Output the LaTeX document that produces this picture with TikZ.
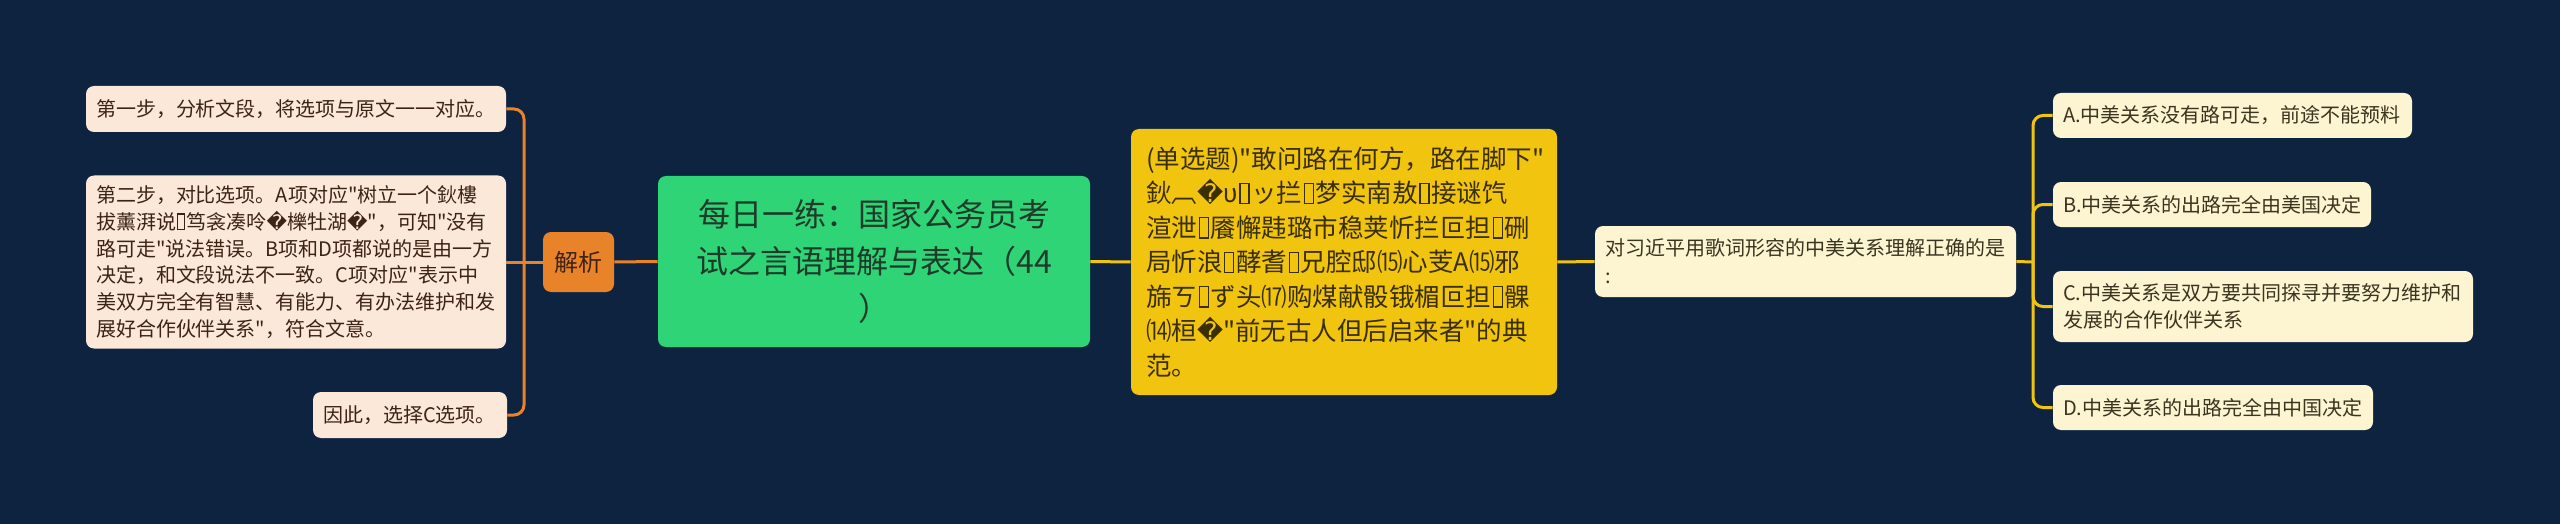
\documentclass[tikz,border=0pt]{standalone}
\usepackage{fontspec}
\newfontfamily\cjk{Noto Sans CJK SC}
\newfontfamily\dejavu{DejaVu Sans}
\newcommand\qm{{\dejavu\char"FFFD}}
\newcommand\tofu{\kern0.06em{\setlength\fboxsep{0pt}\setlength\fboxrule{0.055em}\fbox{\rule{0pt}{0.74em}\hspace{0.3em}}}\kern0.06em}
\definecolor{bg}{HTML}{0E2340}
\definecolor{cOr}{HTML}{E8832A}
\definecolor{cGreen}{HTML}{2FD477}
\definecolor{cYel}{HTML}{F1C40F}
\definecolor{cPeach}{HTML}{FCE8D8}
\definecolor{cCream}{HTML}{FDF4D2}
\definecolor{tBrown}{HTML}{3D2314}
\definecolor{tRoot}{HTML}{1E3B2A}
\definecolor{tYel}{HTML}{3A2E05}
\definecolor{tCream}{HTML}{3A3520}
\tikzset{
  leafL/.style={fill=cPeach, rounded corners=4pt, inner ysep=0pt, inner xsep=5pt, align=left, text=tBrown, font=\cjk\fontsize{10}{13.35}\selectfont},
  leafR/.style={fill=cCream, rounded corners=4pt, inner ysep=0pt, inner xsep=5pt, align=left, text=tCream, font=\cjk\fontsize{10}{13.35}\selectfont},
  conL/.style={draw=cOr, line width=1.5pt, rounded corners=5pt},
  conR/.style={draw=cYel, line width=1.5pt, rounded corners=5pt},
}
\begin{document}
\begin{tikzpicture}[x=0.5pt, y=-0.5pt]
\fill[bg] (0,0) rectangle (2560,524);
% left leaves
\node[leafL, text width=200pt, minimum height=23pt] (b1) at (296,109) {第一步，分析文段，将选项与原文一一对应。};
\node[leafL, text width=200pt, minimum height=86.5pt] (b2) at (296,262) {第二步，对比选项。A项对应"树立一个鈥樓\\拔薰湃说\tofu 笃衾凑呤\qm 櫟牡湖\qm "，可知"没有\\路可走"说法错误。B项和D项都说的是由一方\\决定，和文段说法不一致。C项对应"表示中\\美双方完全有智慧、有能力、有办法维护和发\\展好合作伙伴关系"，符合文意。};
\node[leafL, text width=87pt, minimum height=23pt] (b3) at (410,415) {因此，选择C选项。};
% jiexi
\node[fill=cOr, rounded corners=4pt, minimum width=35.5pt, minimum height=30pt, inner sep=0pt, text=tBrown, font=\cjk\fontsize{12}{14}\selectfont] (jx) at (578.5,262) {解析};
% root
\node[fill=cGreen, rounded corners=4pt, text width=206pt, inner xsep=5pt, minimum height=85.5pt, inner ysep=0pt, align=center, text=tRoot, font=\cjk\fontsize{16}{23.5}\selectfont] (root) at (874,261.5) {每日一练：国家公务员考\\试之言语理解与表达（44\\）};
% question box
\node[fill=cYel, rounded corners=4pt, text width=198pt, inner xsep=7.5pt, minimum height=133pt, inner ysep=0pt, align=left, text=tYel, font=\cjk\fontsize{12.75}{17.25}\selectfont] (q) at (1344,262) {(单选题)"敢问路在何方，路在脚下"\\鈥︹\qm υ\tofu ッ拦\tofu 梦实南敖\tofu 接谜饩\\渲泄\tofu 餍懈韪璐市稳荚忻拦叵担\tofu 硎\\局忻浪\tofu 酵耆\tofu 兄腔邸⒂心芰Α⒂邪\\旆ㄎ\tofu ず头⒄购煤献骰锇楣叵担\tofu 髁\\⒁桓\qm "前无古人但后启来者"的典\\范。};
% ask
\node[leafR, text width=200.5pt, minimum height=35.5pt, font=\cjk\fontsize{10}{14}\selectfont] (ask) at (1805.5,261.5) {对习近平用歌词形容的中美关系理解正确的是\\:};
% options
\node[leafR, text width=169.5pt, minimum height=22.5pt] (oA) at (2232.5,115.5) {A.中美关系没有路可走，前途不能预料};
\node[leafR, text width=149pt, minimum height=22.5pt] (oB) at (2212,204.5) {B.中美关系的出路完全由美国决定};
\node[leafR, text width=200pt, minimum height=35.5pt] (oC) at (2263,306.5) {C.中美关系是双方要共同探寻并要努力维护和\\发展的合作伙伴关系};
\node[leafR, text width=150pt, minimum height=22.5pt] (oD) at (2213,407.5) {D.中美关系的出路完全由中国决定};
% connectors
\coordinate (jL) at (524,262);
\coordinate (jR) at (2033,262);
\draw[conL] (b1.east) -| (jL);
\draw[conL] (b3.east) -| (jL);
\draw[conL] (b2.east) -- (jx.west);
\draw[conL] (jx.east) -- (root.west);
\draw[conR] (root.east) -- (q.west);
\draw[conR] (q.east) -- (ask.west);
\draw[conR] (ask.east) -- (jR);
\draw[conR] (jR) |- (oA.west);
\draw[conR] (jR) |- (oB.west);
\draw[conR] (jR) |- (oC.west);
\draw[conR] (jR) |- (oD.west);
\end{tikzpicture}
\end{document}
